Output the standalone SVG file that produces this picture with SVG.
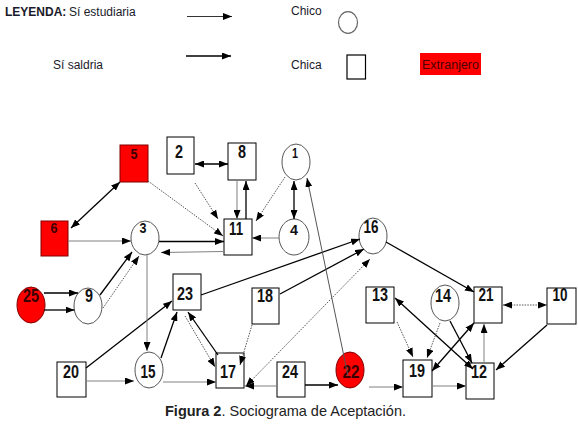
<svg xmlns="http://www.w3.org/2000/svg" width="578" height="424" viewBox="0 0 578 424">
<defs>
<marker id="ah" viewBox="0 0 9 7" refX="9" refY="3.5" markerWidth="9" markerHeight="7" markerUnits="userSpaceOnUse" orient="auto-start-reverse"><path d="M0,0 L9,3.5 L0,7 z" fill="#000"/></marker>
<style>
.leg{font-family:"Liberation Sans",Arial,sans-serif;font-size:12px;fill:#1a1a2a}
.lb{font-family:"Liberation Sans",Arial,sans-serif;font-weight:bold;font-size:18px;fill:#111;text-anchor:middle}
.ls{font-size:15px}
.lr{fill:#3a0000}
.box{fill:#fff;stroke:#000;stroke-width:1}
.cir{fill:#fff;stroke:#555;stroke-width:1}
.red{fill:#ff0000;stroke:#800000;stroke-width:1}
.b{stroke:#000;stroke-width:1.3;fill:none;marker-end:url(#ah)}
.g{stroke:#808080;stroke-width:1;fill:none;marker-end:url(#ah)}
.d{stroke:#555;stroke-width:1;stroke-dasharray:1.5 1.2;fill:none;marker-end:url(#ah)}
.both{marker-start:url(#ah)}
.cap{font-family:"Liberation Sans",Arial,sans-serif;font-size:14.5px;fill:#222}
</style>
</defs>
<rect width="578" height="424" fill="#fff"/>

<g id="legend">
<text class="leg" x="5" y="16" font-weight="bold">LEYENDA:</text>
<text class="leg" x="69" y="16">Sí estudiaria</text>
<text class="leg" x="53" y="69">Sí saldria</text>
<line x1="187" y1="16.5" x2="232" y2="16.5" stroke="#333" stroke-width="1" marker-end="url(#ah)"/>
<line x1="186" y1="56" x2="231" y2="56" stroke="#000" stroke-width="1.6" marker-end="url(#ah)"/>
<text class="leg" x="291" y="15">Chico</text>
<ellipse cx="348" cy="22.5" rx="9.5" ry="10.8" fill="#fff" stroke="#666" stroke-width="1.2"/>
<text class="leg" x="291" y="69">Chica</text>
<rect x="347" y="55" width="18.5" height="24" fill="#fff" stroke="#000" stroke-width="1.2"/>
<rect x="420" y="53" width="61" height="22" fill="#ff0000"/>
<text class="leg" x="422" y="69" style="fill:#4a0000;font-size:12.5px">Extranjero</text>
</g>

<g id="n5"><rect class="red" x="120" y="145" width="28" height="37"/><text class="lb ls lr" x="134" y="159" textLength="7" lengthAdjust="spacingAndGlyphs">5</text></g>
<g id="n2"><rect class="box" x="167" y="137" width="27" height="37"/><text class="lb" x="179" y="158" textLength="8" lengthAdjust="spacingAndGlyphs">2</text></g>
<g id="n8"><rect class="box" x="228" y="143" width="28" height="37"/><text class="lb" x="242" y="158" textLength="8" lengthAdjust="spacingAndGlyphs">8</text></g>
<g id="n1"><ellipse class="cir" cx="296" cy="162" rx="14" ry="18"/><text class="lb ls" x="295" y="158" textLength="6" lengthAdjust="spacingAndGlyphs">1</text></g>
<g id="n6"><rect class="red" x="41" y="221" width="27" height="35"/><text class="lb ls lr" x="54" y="233" textLength="7" lengthAdjust="spacingAndGlyphs">6</text></g>
<g id="n3"><ellipse class="cir" cx="145" cy="238" rx="14" ry="17"/><text class="lb ls" x="143" y="233" textLength="7" lengthAdjust="spacingAndGlyphs">3</text></g>
<g id="n11"><rect class="box" x="224" y="219" width="28" height="36"/><text class="lb" x="236" y="235" textLength="14" lengthAdjust="spacingAndGlyphs">11</text></g>
<g id="n4"><ellipse class="cir" cx="294" cy="237" rx="15" ry="18"/><text class="lb ls" x="294" y="235" textLength="8" lengthAdjust="spacingAndGlyphs">4</text></g>
<g id="n16"><ellipse class="cir" cx="373" cy="236" rx="14" ry="18"/><text class="lb" x="371" y="233" textLength="15" lengthAdjust="spacingAndGlyphs">16</text></g>
<g id="n25"><ellipse class="red" cx="31" cy="305" rx="14" ry="18"/><text class="lb lr" x="31" y="302" textLength="16" lengthAdjust="spacingAndGlyphs">25</text></g>
<g id="n9"><ellipse class="cir" cx="88" cy="306" rx="14" ry="18"/><text class="lb" x="89" y="302" textLength="8" lengthAdjust="spacingAndGlyphs">9</text></g>
<g id="n23"><rect class="box" x="173" y="274" width="28" height="36"/><text class="lb" x="185" y="300" textLength="16" lengthAdjust="spacingAndGlyphs">23</text></g>
<g id="n18"><rect class="box" x="252" y="288" width="27" height="36"/><text class="lb" x="265" y="302" textLength="16" lengthAdjust="spacingAndGlyphs">18</text></g>
<g id="n13"><rect class="box" x="366" y="287" width="28" height="36"/><text class="lb" x="380" y="301" textLength="16" lengthAdjust="spacingAndGlyphs">13</text></g>
<g id="n14"><ellipse class="cir" cx="445" cy="303" rx="14" ry="18"/><text class="lb" x="443" y="302" textLength="16" lengthAdjust="spacingAndGlyphs">14</text></g>
<g id="n21"><rect class="box" x="474" y="287" width="28" height="36"/><text class="lb" x="486" y="301" textLength="15" lengthAdjust="spacingAndGlyphs">21</text></g>
<g id="n10"><rect class="box" x="547" y="288" width="29" height="36"/><text class="lb" x="560" y="301" textLength="15" lengthAdjust="spacingAndGlyphs">10</text></g>
<g id="n20"><rect class="box" x="57" y="362" width="29" height="35"/><text class="lb" x="71" y="378" textLength="16" lengthAdjust="spacingAndGlyphs">20</text></g>
<g id="n15"><ellipse class="cir" cx="149" cy="370" rx="14" ry="18"/><text class="lb" x="148" y="378" textLength="15" lengthAdjust="spacingAndGlyphs">15</text></g>
<g id="n17"><rect class="box" x="216" y="353" width="28" height="35"/><text class="lb" x="228" y="378" textLength="16" lengthAdjust="spacingAndGlyphs">17</text></g>
<g id="n24"><rect class="box" x="277" y="362" width="28" height="35"/><text class="lb" x="290" y="378" textLength="16" lengthAdjust="spacingAndGlyphs">24</text></g>
<g id="n22"><ellipse class="red" cx="350" cy="370" rx="14" ry="18"/><text class="lb lr" x="351" y="378" textLength="17" lengthAdjust="spacingAndGlyphs">22</text></g>
<g id="n19"><rect class="box" x="403" y="360" width="29" height="37"/><text class="lb" x="417" y="377" textLength="16" lengthAdjust="spacingAndGlyphs">19</text></g>
<g id="n12"><rect class="box" x="466" y="363" width="28" height="36"/><text class="lb" x="479" y="378" textLength="16" lengthAdjust="spacingAndGlyphs">12</text></g>

<g id="connectors">
<line class="b both" x1="71" y1="228" x2="120" y2="182"/>
<line class="b both" x1="195" y1="164" x2="228" y2="164"/>
<line class="b" x1="246" y1="219" x2="246" y2="181"/>
<line class="b both" x1="294" y1="181" x2="294" y2="219"/>
<line class="b" x1="159" y1="241.5" x2="224" y2="241.5"/>
<line class="b" x1="44" y1="293" x2="78" y2="293"/>
<line class="b" x1="44" y1="310" x2="74.5" y2="310"/>
<line class="b" x1="100" y1="295" x2="132" y2="252"/>
<line class="b" x1="86" y1="368" x2="172" y2="301"/>
<line class="b" x1="161" y1="358" x2="177" y2="312"/>
<line class="b" x1="218" y1="355" x2="188" y2="312"/>
<line class="b" x1="201" y1="295" x2="360" y2="239"/>
<line class="b" x1="280" y1="294" x2="364" y2="249"/>
<line class="b" x1="305" y1="385" x2="338" y2="385"/>
<line class="b" x1="386" y1="242" x2="474" y2="292"/>
<line class="b both" x1="395" y1="298" x2="473" y2="369"/>
<line class="b both" x1="474" y1="323" x2="432" y2="371"/>
<line class="b" x1="450" y1="321" x2="472" y2="363"/>
<line class="b" x1="547" y1="325" x2="496" y2="370"/>

<line class="g" x1="237" y1="180" x2="237" y2="219"/>
<line class="g" x1="279" y1="238" x2="252" y2="238"/>
<line class="g" x1="224" y1="251.5" x2="161" y2="252.5"/>
<line class="g" x1="68" y1="241" x2="131" y2="241"/>
<line class="g" x1="147" y1="255" x2="147" y2="351"/>
<line class="g" x1="86" y1="381" x2="134" y2="381"/>
<line class="g" x1="163" y1="382" x2="216" y2="382"/>
<line class="g" x1="277" y1="386" x2="245" y2="386"/>
<line class="g" x1="348" y1="376" x2="307" y2="178" style="stroke:#555"/>
<line class="g" x1="369" y1="387" x2="403" y2="387"/>
<line class="g" x1="432" y1="386" x2="466" y2="386"/>
<line class="g" x1="484" y1="363" x2="484" y2="324"/>

<line class="d" x1="148" y1="181" x2="223" y2="236"/>
<line class="d" x1="195" y1="183" x2="218" y2="219"/>
<line class="d" x1="285" y1="177" x2="256" y2="221"/>
<line class="d" x1="103" y1="308" x2="139" y2="256"/>
<line class="d" x1="185" y1="316" x2="215" y2="367"/>
<line class="d" x1="252" y1="325" x2="240" y2="365"/>
<line class="d both" x1="246" y1="386" x2="370" y2="259"/>
<line class="d" x1="397" y1="322" x2="413" y2="357"/>
<line class="d" x1="440" y1="323" x2="427" y2="358"/>
<line class="d both" x1="503" y1="305" x2="547" y2="305"/>
</g>

<text class="cap" x="165" y="416"><tspan font-weight="bold">Figura 2</tspan>. Sociograma de Aceptación.</text>
</svg>
